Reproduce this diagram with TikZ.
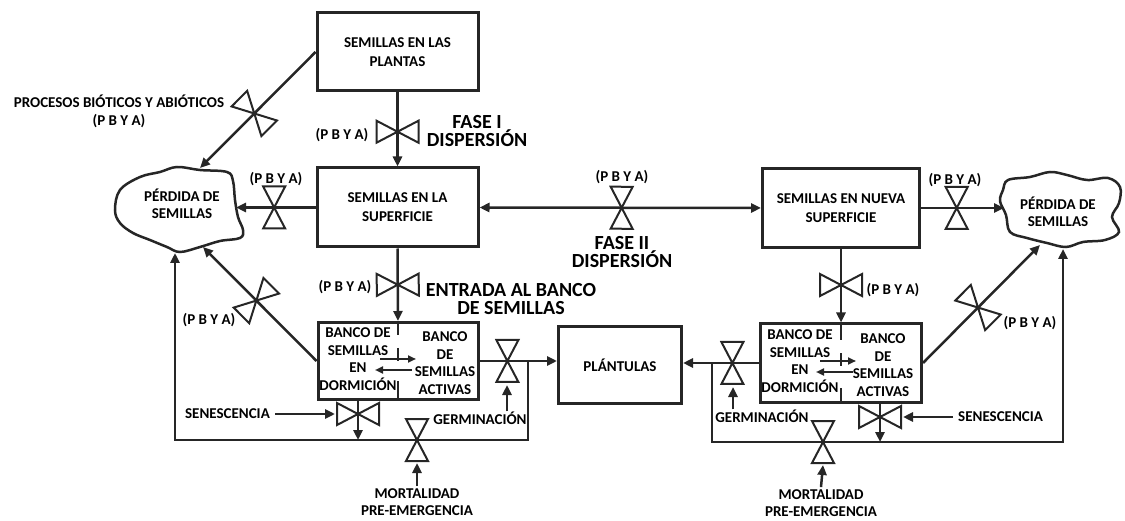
\documentclass[tikz,border=0pt]{standalone}
\usepackage{fontspec}
\setmainfont{Carlito}
\usetikzlibrary{arrows.meta,calc}
\definecolor{LineClr}{rgb}{0.15,0.15,0.15}

\begin{document}
\begin{tikzpicture}[x=1pt,y=-1pt,line join=miter,color=LineClr,
  box/.style={draw,line width=3pt,inner sep=0pt,align=center,text=black,font=\fontsize{15}{19}\selectfont\bfseries},
  lbl/.style={inner sep=0pt,align=center,text=black,font=\fontsize{15}{17.5}\selectfont\bfseries},
  pbya/.style={inner sep=0pt,align=center,text=black,font=\fontsize{15}{18}\selectfont\bfseries},
  big/.style={inner sep=0pt,align=center,text=black,font=\fontsize{20}{18.5}\selectfont\bfseries},
  flow/.style={line width=2.5pt,-{Triangle[length=10pt,width=9pt]}},
  inflow/.style={line width=2pt,-{Triangle[length=8pt,width=7pt]}},
  valveline/.style={line width=2pt},
  valve/.pic={\draw[valveline,-] (0,0)--(-11,-21)--(11,-21)--cycle (0,0)--(-11,21)--(11,21)--cycle;}]
\useasboundingbox (0,0) rectangle (1125,521);

% stocks
\node[box,minimum width=161pt,minimum height=78pt] (plants) at (397.5,52) {SEMILLAS EN LAS\\PLANTAS};
\node[box,minimum width=161pt,minimum height=79pt] (surface) at (397.5,207.5) {SEMILLAS EN LA\\SUPERFICIE};
\node[box,minimum width=157pt,minimum height=79pt] (newsurf) at (841,208) {SEMILLAS EN NUEVA\\SUPERFICIE};
\node[box,minimum width=160pt,minimum height=77pt] (bankL) at (398,361) {};
\node[box,minimum width=123pt,minimum height=77pt] (seedlings) at (620,365) {PLÁNTULAS};
\node[box,minimum width=161pt,minimum height=78pt] (bankR) at (841,363) {};

\node[lbl] (dormL) at (358,359) {BANCO DE\\SEMILLAS\\EN\\DORMICIÓN};
\node[lbl] (actL) at (445,363) {BANCO\\DE\\SEMILLAS\\ACTIVAS};
\node[lbl] (dormR) at (800,361) {BANCO DE\\SEMILLAS\\EN\\DORMICIÓN};
\node[lbl] (actR) at (883,365) {BANCO\\DE\\SEMILLAS\\ACTIVAS};

\draw[line width=2pt] (bankL.north) -- ++(0,14) ($(bankL.north)+(0,27)$) -- ++(0,13) ($(bankL.south)+(0,-20)$) -- (bankL.south);
\draw[line width=2pt] (bankR.north) -- ++(0,18) ($(bankR.north)+(0,31)$) -- ++(0,13) ($(bankR.south)+(0,-15)$) -- (bankR.south);
\draw[inflow] ($(bankL.center)+(-18,-2)$) -- ++(36,0);
\draw[inflow] ($(bankL.center)+(14,9)$) -- ++(-37,0);
\draw[inflow] ($(bankR.center)+(-21,-2)$) -- ++(36,0);
\draw[inflow] ($(bankR.center)+(12,9)$) -- ++(-37,0);

% clouds
\draw[line width=2.5pt] plot[smooth cycle,tension=.6] coordinates {(120,190) (140,177) (160,172) (177,167)
  (200,170) (227,172) (233,181) (235,200) (238,217) (243,230) (240,238) (220,241) (200,247) (180,252)
  (167,247) (150,240) (133,233) (120,223) (115,210)};
\node[lbl] (lossL) at (182,204) {PÉRDIDA DE\\SEMILLAS};
\draw[line width=2.5pt] plot[smooth cycle,tension=.6] coordinates {(1003,190) (1008,180) (1030,177) (1050,172)
  (1067,175) (1087,180) (1108,178) (1120,187) (1119,203) (1112,217) (1119,232) (1105,240) (1083,242)
  (1066,247) (1047,243) (1027,238) (1010,232) (1006,215) (1000,201)};
\node[lbl] (lossR) at (1058,212) {PÉRDIDA DE\\SEMILLAS};

\coordinate (lossLtop) at (200,168);
\coordinate (lossLright) at (236,207.5);
\coordinate (lossLlow) at (203,247);
\coordinate (lossLbot) at (175,253);
\coordinate (lossRleft) at (1004,208);
\coordinate (lossRlow) at (1040,245);
\coordinate (lossRbot) at (1063,249);

% flows
\draw[flow] (plants.south) -- pic[pos=.53,sloped]{valve} (surface.north);
\draw[flow] (plants.west) -- pic[pos=.53,sloped]{valve} (lossLtop);
\draw[flow] (surface.west) -- pic[pos=.52,sloped]{valve} (lossLright);
\draw[flow,{Triangle[length=10pt,width=9pt]}-{Triangle[length=10pt,width=9pt]}] (surface.east) -- pic[pos=.505,sloped]{valve} (newsurf.west);
\draw[flow] (newsurf.east) -- pic[pos=.43,sloped]{valve} (lossRleft);
\draw[flow] (surface.south) -- pic[pos=.5,sloped]{valve} (bankL.north);
\draw[flow] (newsurf.south) -- pic[pos=.49,sloped]{valve} (bankR.north);
\draw[flow] (bankL.west) -- pic[pos=.53,sloped]{valve} (lossLlow);
\draw[flow] (bankR.east) -- pic[pos=.47,sloped]{valve} (lossRlow);
\draw[flow] (bankL.east) -- pic[pos=.36,sloped]{valve} (bankL.east -| seedlings.west);
\draw[flow] (bankR.west) -- pic[pos=.35,sloped]{valve} (bankR.west -| seedlings.east);

% senescence and mortality loops
\coordinate (jL) at (528,361);
\coordinate (cornerL) at (175,440);
\coordinate (senL) at (358,414);
\coordinate (mortL) at (417,440);
\coordinate (germL) at (507,361);
\draw[flow] (jL) |- (cornerL) -- (lossLbot);
\draw[flow] (bankL.south -| senL) -- (senL |- cornerL);
\pic[rotate=90] at (senL) {valve};
\pic at (mortL) {valve};

\coordinate (jR) at (712,363);
\coordinate (cornerR) at (1063,442);
\coordinate (senR) at (880,417);
\coordinate (mortR) at (823,442);
\coordinate (germR) at (733,363);
\draw[flow] (jR) |- (cornerR) -- (lossRbot);
\draw[flow] (bankR.south -| senR) -- (senR |- cornerR);
\pic[rotate=90] at (senR) {valve};
\pic at (mortR) {valve};

% labels
\node[pbya] (pbya1) at (119,111) {PROCESOS BIÓTICOS Y ABIÓTICOS\\(P B Y A)};
\node[pbya] (pbya2) at (342,135) {(P B Y A)};
\node[pbya] (pbya3) at (276,179) {(P B Y A)};
\node[pbya] (pbya4) at (622,177) {(P B Y A)};
\node[pbya] (pbya5) at (955,180) {(P B Y A)};
\node[pbya] (pbya6) at (345,287) {(P B Y A)};
\node[pbya] (pbya7) at (209,320) {(P B Y A)};
\node[pbya] (pbya8) at (893,290) {(P B Y A)};
\node[pbya] (pbya9) at (1030,323) {(P B Y A)};

\node[big] (phase1) at (477,131) {FASE I\\DISPERSIÓN};
\node[big] (phase2) at (622,252) {FASE II\\DISPERSIÓN};
\node[big] (entry) at (511,299) {ENTRADA AL BANCO\\DE SEMILLAS};

\node[lbl,anchor=east] (senLtxt) at (270,414) {SENESCENCIA};
\node[lbl,anchor=west] (senRtxt) at (958,417) {SENESCENCIA};
\node[lbl] (germLtxt) at (480,418) {GERMINACIÓN};
\node[lbl] (germRtxt) at (762,416) {GERMINACIÓN};
\node[lbl] (mortLtxt) at (417,502) {MORTALIDAD\\PRE-EMERGENCIA};
\node[lbl] (mortRtxt) at (821,503) {MORTALIDAD\\PRE-EMERGENCIA};

\draw[flow] ($(senLtxt.east)+(5,0)$) -- ($(senL)+(-23,0)$);
\draw[flow] ($(senRtxt.west)+(-5,0)$) -- ($(senR)+(23,0)$);
\draw[flow] (germL |- germLtxt.north) -- ($(germL)+(0,24)$);
\draw[flow] (germR |- germRtxt.north) -- ($(germR)+(0,24)$);
\draw[flow] ($(mortLtxt.north)+(0,-2)$) -- ($(mortL)+(0,23)$);
\draw[flow] ($(mortRtxt.north)+(0,-2)$) -- ($(mortR)+(0,23)$);

\end{tikzpicture}
\end{document}
